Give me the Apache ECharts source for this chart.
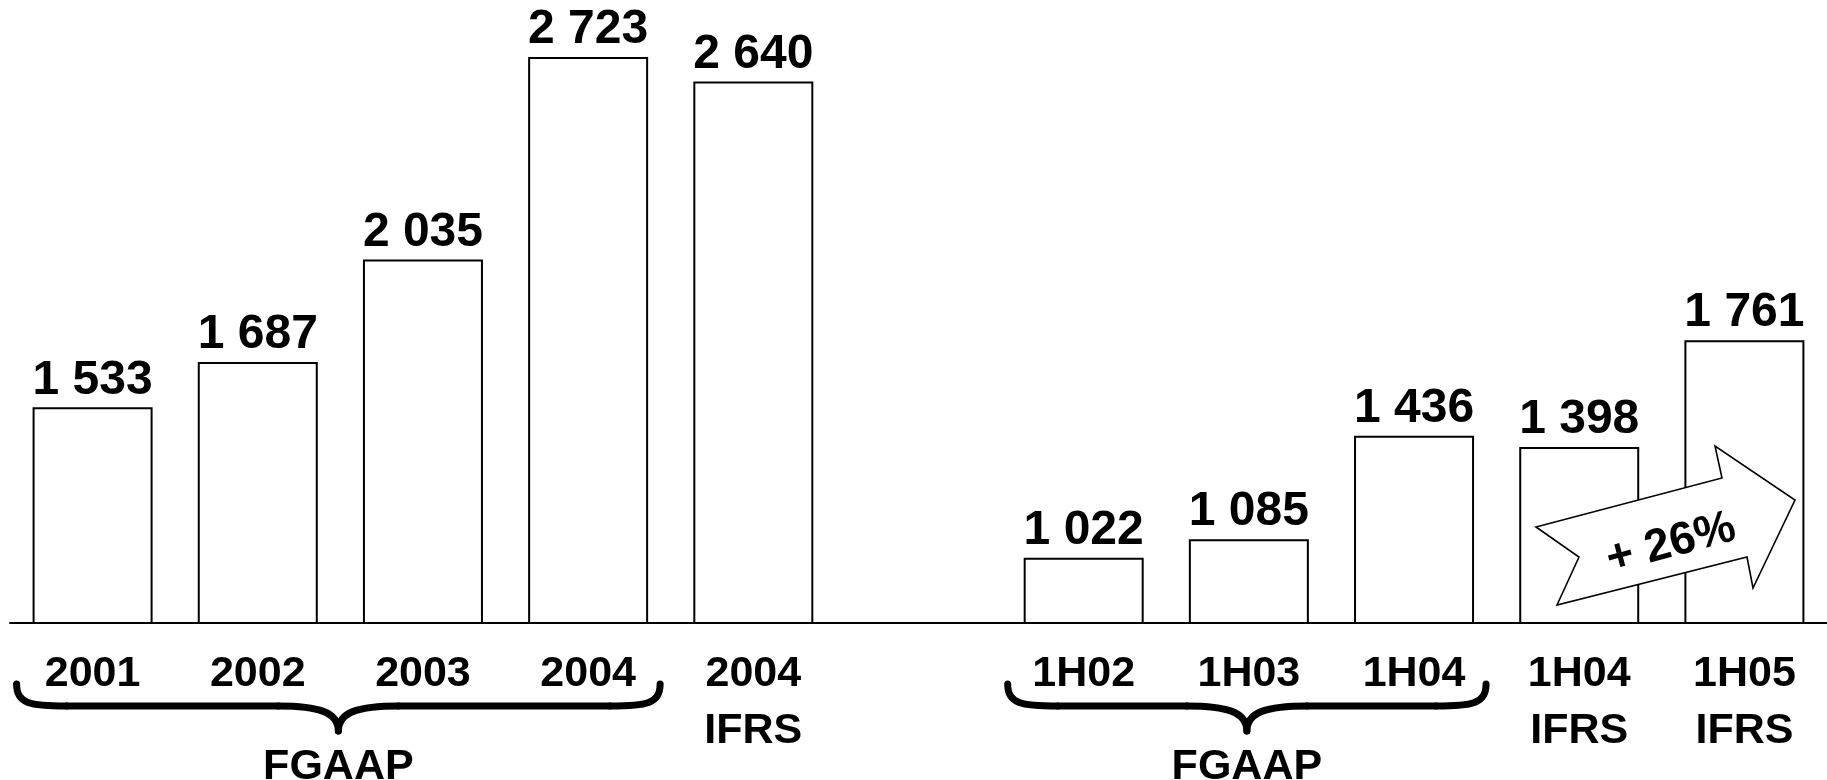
<!DOCTYPE html>
<html>
<head>
<meta charset="utf-8">
<style>
  html, body { margin: 0; padding: 0; background: #fff; }
  #chart { width: 1827px; height: 780px; }
</style>
<script src="https://cdn.jsdelivr.net/npm/echarts@6/dist/echarts.min.js"></script>
</head>
<body>
<div id="chart"></div>
<script>
// ---- data ----
const categories = ['2001', '2002', '2003', '2004', '2004\nIFRS', '', '1H02', '1H03', '1H04', '1H04\nIFRS', '1H05\nIFRS'];
const values = [1533, 1687, 2035, 2723, 2640, null, 1022, 1085, 1436, 1398, 1761];
const groupNames = ['FGAAP', 'FGAAP'];
const groupStart = [0, 6];
const groupEnd = [3, 8];
const growthText = '+ 26%';

const FONT = '"Liberation Sans", Arial, sans-serif';

function fmt(v) {
  return String(v).replace(/\B(?=(\d{3})+(?!\d))/g, ' ');
}

const chart = echarts.init(document.getElementById('chart'), null, { renderer: 'canvas' });

const option = {
  animation: false,
  backgroundColor: '#ffffff',
  grid: { left: 10, right: -2, top: 5, bottom: 157, containLabel: false },
  xAxis: {
    type: 'category',
    data: categories,
    axisLine: { show: true, lineStyle: { color: '#000', width: 2 } },
    axisTick: { show: false },
    axisLabel: {
      interval: 0,
      color: '#000',
      fontFamily: FONT,
      fontWeight: 'bold',
      fontSize: 43,
      lineHeight: 57,
      margin: 23
    }
  },
  yAxis: {
    type: 'value',
    min: 800,
    max: 2900,
    show: false,
    splitLine: { show: false }
  },
  series: [{
    type: 'bar',
    data: values.map(v => v == null ? '-' : v),
    barWidth: 120,
    clip: true,
    itemStyle: { color: '#fff', borderColor: '#000', borderWidth: 2 },
    label: {
      show: true,
      position: 'top',
      distance: 3,
      color: '#000',
      fontFamily: FONT,
      fontWeight: 'bold',
      fontSize: 48,
      formatter: p => fmt(p.value)
    }
  }]
};
chart.setOption(option);

// ---- annotations: braces, group names, growth arrow ----
function px(idx) {
  return chart.convertToPixel({ xAxisIndex: 0 }, categories[idx]);
}
const braceStyle = { fill: null, stroke: '#000', lineWidth: 7, lineCap: 'round', lineJoin: 'round' };
const graphics = [];
for (let g = 0; g < groupNames.length; g++) {
  const x0 = px(groupStart[g]) - 76;
  const x1 = px(groupEnd[g]) + 72;
  const mid = (x0 + x1) / 2;
  const yTop = 684, yMid = 706, yTip = 731;
  graphics.push({ type: 'bezierCurve', shape: { x1: x0, y1: yTop, cpx1: x0, cpy1: yMid - 2, cpx2: x0 + 14, cpy2: yMid, x2: x0 + 50, y2: yMid }, style: braceStyle, z: 10 });
  graphics.push({ type: 'line', shape: { x1: x0 + 50, y1: yMid, x2: mid - 60, y2: yMid }, style: braceStyle, z: 10 });
  graphics.push({ type: 'bezierCurve', shape: { x1: mid - 60, y1: yMid, cpx1: mid - 20, cpy1: yMid, cpx2: mid, cpy2: yMid + 6, x2: mid, y2: yTip }, style: braceStyle, z: 10 });
  graphics.push({ type: 'bezierCurve', shape: { x1: mid, y1: yTip, cpx1: mid, cpy1: yMid + 6, cpx2: mid + 20, cpy2: yMid, x2: mid + 60, y2: yMid }, style: braceStyle, z: 10 });
  graphics.push({ type: 'line', shape: { x1: mid + 60, y1: yMid, x2: x1 - 50, y2: yMid }, style: braceStyle, z: 10 });
  graphics.push({ type: 'bezierCurve', shape: { x1: x1 - 50, y1: yMid, cpx1: x1 - 14, cpy1: yMid, cpx2: x1, cpy2: yMid - 2, x2: x1, y2: yTop }, style: braceStyle, z: 10 });
  graphics.push({
    type: 'text',
    x: mid,
    y: 746,
    style: {
      text: groupNames[g],
      fill: '#000',
      font: 'bold 43px ' + FONT,
      textAlign: 'center',
      textVerticalAlign: 'top'
    },
    z: 10
  });
}

graphics.push({
  type: 'polygon',
  shape: {
    points: [[1536, 527], [1722, 478], [1715, 446], [1795, 500], [1753, 588], [1747, 557], [1557, 605], [1579, 557]]
  },
  style: { fill: '#fff', stroke: '#000', lineWidth: 1.6, lineJoin: 'miter' },
  z: 20
});
graphics.push({
  type: 'text',
  x: 1671,
  y: 544,
  rotation: 15 * Math.PI / 180,
  style: {
    text: growthText,
    fill: '#000',
    font: 'bold 46px ' + FONT,
    textAlign: 'center',
    textVerticalAlign: 'middle'
  },
  z: 21
});

chart.setOption({ graphic: graphics });
</script>
</body>
</html>
